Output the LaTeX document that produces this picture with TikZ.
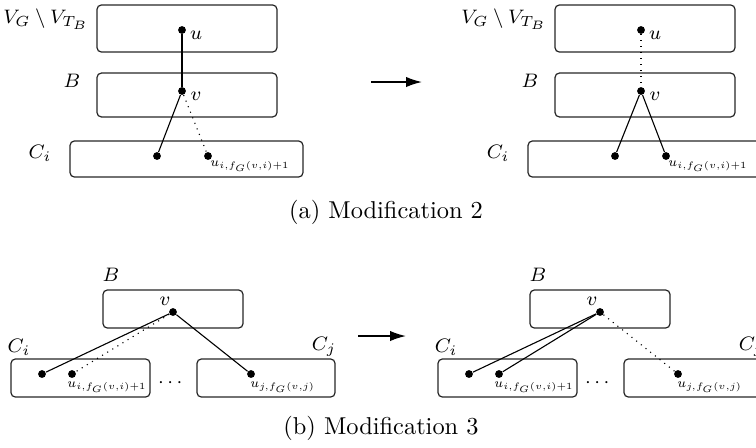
\documentclass[tikz,border=0pt]{standalone}
\usepackage{amsmath,amssymb}
\usepackage{tikz}
\usetikzlibrary{arrows.meta, positioning, calc}
\tikzset{
    region/.style={rectangle, rounded corners=1.8pt, draw=black!85, line width=0.5pt, inner sep=0pt},
    vertex/.style={circle, fill=black, inner sep=0pt, minimum size=3.2pt},
    setlabel/.style={inner sep=0pt, font=\footnotesize},
    sublabel/.style={inner sep=0pt, anchor=north west, font=\normalsize, scale=0.77},
    caption/.style={inner sep=0pt, font=\normalsize},
    edge/.style={line width=0.45pt},
    absent/.style={line width=0.45pt, dotted},
    modarrow/.style={line width=0.6pt, -{Latex[length=6.5pt,width=4.2pt]}}
}

\begin{document}
\begin{tikzpicture}[x=0.41pt, y=-0.41pt]
        \useasboundingbox (0,0) rectangle (756,447);
        \clip (0,0) rectangle (756,447);

        % (a) before
        \node (topA) [region, minimum width=73.8pt, minimum height=19.3pt] at (187,28.5) {};
        \node (midA) [region, minimum width=73.8pt, minimum height=18pt] at (187,95) {};
        \node (botA) [region, minimum width=95.5pt, minimum height=14.8pt] at (186.5,159) {};
        \node (lVA) [setlabel] at (46,19) {$V_G \setminus V_{T_B}$};
        \node (lBA) [setlabel] at (72,81) {$B$};
        \node (lCA) [setlabel] at (40,153) {$C_i$};
        \node (uA) [vertex] at (182,30) {};
        \node (vA) [vertex] at (182,91) {};
        \node (wA) [vertex] at (157,156) {};
        \node (xA) [vertex] at (208,156) {};
        \node (luA) [setlabel] at (196,35) {$u$};
        \node (lvA) [setlabel] at (196,96) {$v$};
        \node (lxA) [sublabel] at (210,160) {$_{u_{i,f_G(v,i)+1}}$};
        \draw[edge] (uA) -- (vA);
        \draw[edge] (vA) -- (wA);
        \draw[absent] (vA) -- (xA);

        \coordinate (arA1) at (371,82);
        \coordinate (arA2) at (422,82);
        \draw[modarrow] (arA1) -- (arA2);

        % (a) after
        \node (topA') [region, minimum width=73.8pt, minimum height=19.3pt] at (645,28.5) {};
        \node (midA') [region, minimum width=73.8pt, minimum height=18pt] at (645,95) {};
        \node (botA') [region, minimum width=95.5pt, minimum height=14.8pt] at (644.5,159) {};
        \node (lVA') [setlabel] at (504,19) {$V_G \setminus V_{T_B}$};
        \node (lBA') [setlabel] at (530,81) {$B$};
        \node (lCA') [setlabel] at (498,153) {$C_i$};
        \node (uA') [vertex] at (641,30) {};
        \node (vA') [vertex] at (641,91) {};
        \node (wA') [vertex] at (615,156) {};
        \node (xA') [vertex] at (666,156) {};
        \node (luA') [setlabel] at (655,35) {$u$};
        \node (lvA') [setlabel] at (655,96) {$v$};
        \node (lxA') [sublabel] at (668,160) {$_{u_{i,f_G(v,i)+1}}$};
        \draw[absent] (uA') -- (vA');
        \draw[edge] (vA') -- (wA');
        \draw[edge] (vA') -- (xA');

        \node (capA) [caption] at (386,212) {(a) Modification 2};

        % (b) before
        \node (boxB) [region, minimum width=57.4pt, minimum height=15.6pt] at (173,309) {};
        \node (boxCi) [region, minimum width=57pt, minimum height=15.6pt] at (80.5,378) {};
        \node (boxCj) [region, minimum width=56.6pt, minimum height=15.6pt] at (266,378) {};
        \node (lBB) [setlabel] at (111,275) {$B$};
        \node (lCiB) [setlabel] at (19,347) {$C_i$};
        \node (lCjB) [setlabel] at (324,347) {$C_j$};
        \node (vB) [vertex] at (173,312) {};
        \node (lvB) [setlabel] at (165,301) {$v$};
        \node (aB) [vertex] at (42,374) {};
        \node (bB) [vertex] at (72,374) {};
        \node (cB) [vertex] at (251,374) {};
        \node (lbB) [sublabel] at (67,381) {$_{u_{i,f_G(v,i)+1}}$};
        \node (lcB) [sublabel] at (250,381) {$_{u_{j,f_G(v,j)}}$};
        \node (dotsB) [setlabel] at (172,383) {$\cdots$};
        \draw[edge] (vB) -- (aB);
        \draw[absent] (vB) -- (bB);
        \draw[edge] (vB) -- (cB);

        \coordinate (arB1) at (358,336);
        \coordinate (arB2) at (406,336);
        \draw[modarrow] (arB1) -- (arB2);

        % (b) after
        \node (boxB') [region, minimum width=57.4pt, minimum height=15.6pt] at (600,309) {};
        \node (boxCi') [region, minimum width=57pt, minimum height=15.6pt] at (507.5,378) {};
        \node (boxCj') [region, minimum width=56.6pt, minimum height=15.6pt] at (693,378) {};
        \node (lBB') [setlabel] at (538,275) {$B$};
        \node (lCiB') [setlabel] at (446,347) {$C_i$};
        \node (lCjB') [setlabel] at (751,347) {$C_j$};
        \node (vB') [vertex] at (600,312) {};
        \node (lvB') [setlabel] at (592,301) {$v$};
        \node (aB') [vertex] at (469,374) {};
        \node (bB') [vertex] at (499,374) {};
        \node (cB') [vertex] at (678,374) {};
        \node (lbB') [sublabel] at (494,381) {$_{u_{i,f_G(v,i)+1}}$};
        \node (lcB') [sublabel] at (677,381) {$_{u_{j,f_G(v,j)}}$};
        \node (dotsB') [setlabel] at (599,383) {$\cdots$};
        \draw[edge] (vB') -- (aB');
        \draw[edge] (vB') -- (bB');
        \draw[absent] (vB') -- (cB');

        \node (capB) [caption] at (381,428) {(b) Modification 3};
    \end{tikzpicture}
\end{document}
